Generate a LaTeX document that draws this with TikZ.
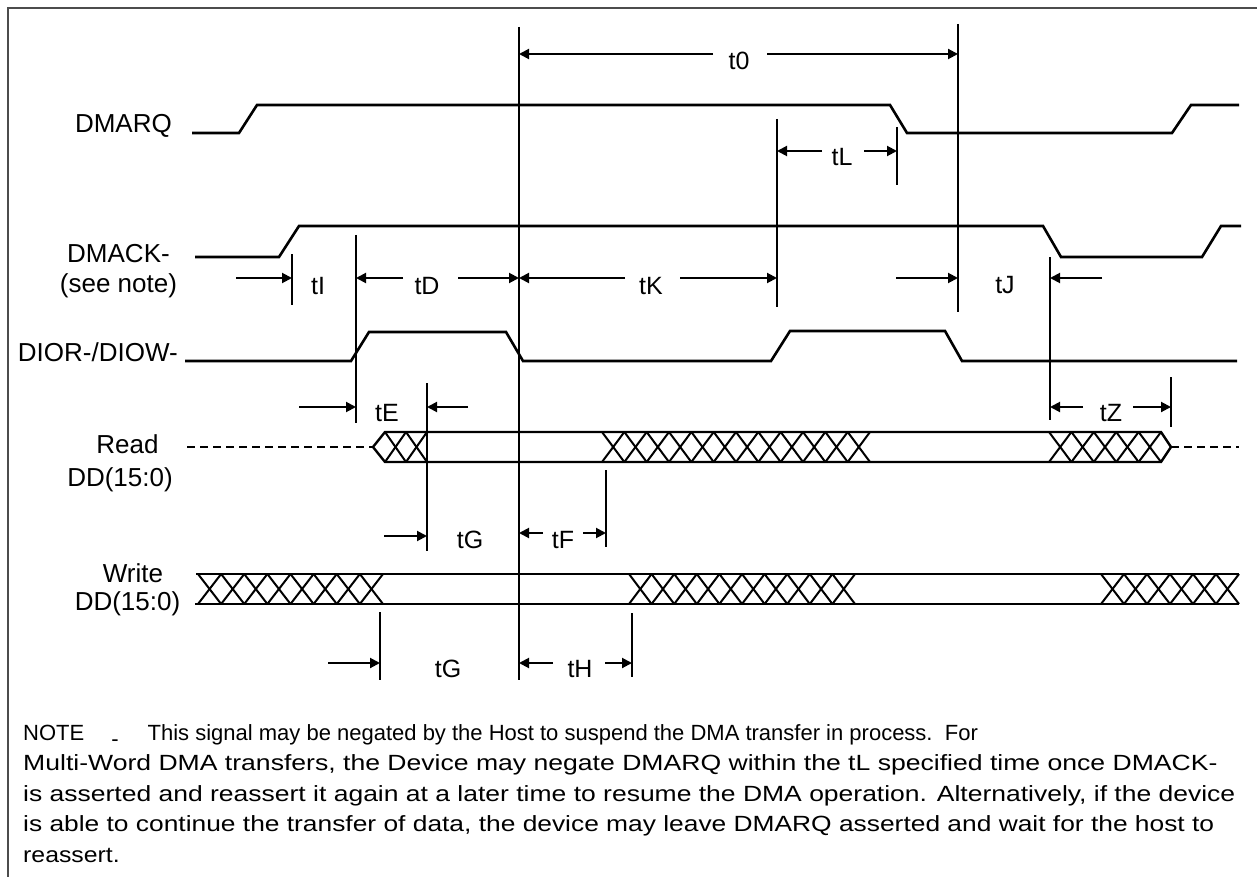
\documentclass[tikz,border=0pt]{standalone}
\usepackage{graphicx}
\usepackage{fontspec}
\setmainfont{Liberation Sans}
\usetikzlibrary{arrows.meta}
\tikzset{
  >={Triangle[length=10pt, width=10pt]},
  dd sig/.style={draw=black, line width=2.6pt},
  dd bus/.style={draw=black, line width=2.4pt},
  dd hatch/.style={draw=black, line width=2pt},
  dd float/.style={draw=black, line width=2pt, dash pattern=on 8pt off 5pt},
  dd tick/.style={draw=black, line width=2pt},
  dd dim/.style={draw=black, ->, line width=2pt},
  dd name/.style={font=\fontsize{26}{30}\selectfont, inner sep=0pt},
  dd time/.style={font=\fontsize{25}{30}\selectfont, inner sep=0pt, anchor=base},
  dd note/.style={font=\fontsize{22}{30}\selectfont, inner sep=0pt, anchor=base west},
  dd frame/.style={draw=black!70, line width=1.5pt},
}
% crossed (don't care) stretch of a bus: x from, x to, count, y top, y bottom
\newcommand\ddhatch[5]{%
  \pgfmathsetmacro\ddw{(#2-#1)/#3}
  \foreach \k in {1,...,#3}{
    \draw[dd hatch] ({#1+(\k-1)*\ddw},#4) -- ({#1+\k*\ddw},#5);
    \draw[dd hatch] ({#1+(\k-1)*\ddw},#5) -- ({#1+\k*\ddw},#4);
  }}

\begin{document}
\begin{tikzpicture}[x=1pt, y=-1pt]
 \useasboundingbox (0,0) rectangle (1257,877);
 \draw[dd frame] (8,880) -- (8,8) -- (1260,8);

 % signal names
 \node[dd name, anchor=base east] (lblDmarq) at (172,133) {DMARQ};
 \node[dd name, anchor=base] (lblDmack) at (118.5,262) {DMACK-};
 \node[dd name, anchor=base] (lblSeeNote) at (118.5,292) {(see note)};
 \node[dd name, anchor=base east] (lblDior) at (178,361) {DIOR-/DIOW-};
 \node[dd name, anchor=base] (lblRead) at (127.5,453) {Read};
 \node[dd name, anchor=base] (lblReadDD) at (120,486) {DD(15:0)};
 \node[dd name, anchor=base] (lblWrite) at (133,582) {Write};
 \node[dd name, anchor=base] (lblWriteDD) at (127.5,610) {DD(15:0)};

 % waveforms
 \draw[dd sig] (192,133) -- (239,133) -- (257,105) -- (890,105) -- (907,133)
   -- (1172,133) -- (1191,105) -- (1239,105);
 \draw[dd sig] (195,257) -- (279,257) -- (299,226) -- (1043,226) -- (1061,257)
   -- (1202,257) -- (1221,226) -- (1241,226);
 \draw[dd sig] (185,361) -- (351,361) -- (369,332) -- (506,332) -- (523,361)
   -- (771,361) -- (790,331) -- (945,331) -- (962,361) -- (1237,361);

 % read bus
 \draw[dd float] (187,447) -- (373,447);
 \draw[dd float] (1171,447) -- (1239,447);
 \draw[dd bus] (385,432) -- (373,447) -- (385,462) -- (1161,462) -- (1171,447)
   -- (1161,432) -- cycle;
 \ddhatch{385}{427}{2}{432}{462}
 \ddhatch{602}{870}{12}{432}{462}
 \ddhatch{1049}{1161}{5}{432}{462}

 % write bus
 \draw[dd bus] (196,574) -- (1239,574);
 \draw[dd bus] (195,604) -- (1239,604);
 \ddhatch{198}{383}{8}{574}{604}
 \ddhatch{629}{855}{10}{574}{604}
 \ddhatch{1101}{1239}{6}{574}{604}

 % reference lines
 \foreach \x/\ya/\yb in {519/27/680, 958/24/312, 777/119/307, 897/127/185,
   292/254/305, 356/235/423, 1050/257/420, 427/383/551, 606/470/547,
   1171/377/427, 380/612/680, 632/613/677}
   \draw[dd tick] (\x,\ya) -- (\x,\yb);

 % timing arrows
 \foreach \y/\xa/\xb in {54/713/519, 54/767/958, 151/822/777, 151/864/897,
   278/236/292, 278/403/356, 278/458/519, 278/625/519, 278/680/777,
   278/896/958, 278/1102/1050, 407/299/356, 407/468/427, 407/1083/1050,
   407/1133/1171, 536/384/427, 533/543/519, 533/583/606, 663/328/380,
   663/553/519, 663/605/632}
   \draw[dd dim] (\xa,\y) -- (\xb,\y);

 % timing names
 \foreach \x/\y/\t [count=\i] in {739/70/t0, 842/166/tL, 318/294/tI, 427/294/tD,
   651/294/tK, 1005/293/tJ, 387/421/tE, 1111/421/tZ, 470/548/tG, 563/548/tF,
   448/677/tG, 580/677/tH}
   \node[dd time] (tm\i) at (\x,\y) {\t};

 % note (lines 2-5 are set wider in the drawing than line 1)
 \node[dd note] (note1) at (23,740) {NOTE\hspace{27pt}\raisebox{-0.3em}{-}\hspace{29pt}This
   signal may be negated by the Host to suspend the DMA transfer in process.\ \ For};
 \foreach \sx/\ln [count=\i from 2] in {
   1.208/{Multi-Word DMA transfers, the Device may negate DMARQ within the tL specified time once DMACK-},
   1.204/{is asserted and reassert it again at a later time to resume the DMA operation. Alternatively, if the device},
   1.198/{is able to continue the transfer of data, the device may leave DMARQ asserted and wait for the host to},
   1.128/{reassert.}}
   \node[dd note] (note\i) at (23,{740+30.6*(\i-1)}) {\scalebox{\sx}[1]{\ln}};
\end{tikzpicture}
\end{document}
